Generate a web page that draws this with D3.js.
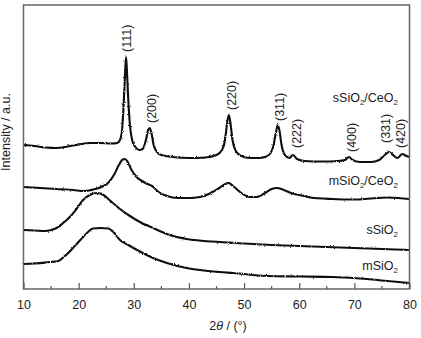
<!DOCTYPE html>
<html>
<head>
<meta charset="utf-8">
<script src="https://cdn.jsdelivr.net/npm/d3@7/dist/d3.min.js"></script>
<style>
  html, body { margin: 0; padding: 0; background: #fff; }
  svg { display: block; }
  text { font-family: "Liberation Sans", Arial, sans-serif; }
</style>
</head>
<body>
<svg id="chart" width="421" height="338"></svg>
<script>
// XRD patterns, 2θ in degrees vs. intensity (a.u., vertically offset)
const twoTheta_sCe = [10,12,14,16,18,20,22,24,26,27,27.5,27.9,28.2,28.45,28.6,28.75,29.0,29.3,29.7,30.3,31,31.6,32.2,32.6,32.9,33.2,33.6,34.2,35,37,40,43,45,46,46.6,47.0,47.25,47.5,47.9,48.5,49.5,51,53,54.5,55.3,55.8,56.1,56.4,56.8,57.4,58.2,58.9,59.6,61,64,67,68.3,69.0,69.7,71,73,74.5,75.5,76.3,77,77.8,78.7,79.3,80];
const int_sCe = [144,143,141.5,141,142.5,144.5,146,146,145.5,146,149,161,189,219,232,219,189,164,149,142,139,140,149,159,161,156,144,137,134,132,131,131.5,134,139,151,169,174,167,149,138,133,131,131,134,143,157,164,159,144,134,131,134,130,128,127.5,128,129,132,129,127,127,129,134,137,134,131,135,133.5,132];

const twoTheta_mCe = [10,13,16,19,21,23,24.5,25.5,26.5,27.3,28.0,28.4,28.9,29.6,30.5,31.5,32.5,33.3,34.5,36,38,40,42,44,45.5,46.6,47.2,48,49.5,51,52.3,53.5,55,56,57,58.5,60,62,66,70,72,74,76,78,80];
const int_mCe = [102,101,100,99,98,100,103,107,115,124,129.5,130,127,119,112,108,105,103,97,93,91,91,92,96,101,105,106,103,96,92,92,95,100,101,99.5,96,94,91.5,90,89.5,90,91,91.5,91,90];

const twoTheta_s = [10,12,14,15,16,17.2,18.4,19.6,20.8,22,23.3,24.5,25.8,27.5,29.3,31.1,33.5,36,39.6,45.6,50,55,60,65,70,75,80];
const int_s = [59,58.5,58,59,61,66,72,80,89,94,96,94,88,80,73,67,61,55,50,47,45.5,44,43,42,41,40,39];

const twoTheta_m = [10,12,14.7,16.3,17.3,18.3,19.3,20.3,21.5,22.6,24.0,25.4,26.3,27.5,29,30.6,33.5,36,39.6,42,45.6,48,54.2,60,66,72.3,76,80];
const int_m = [25,25.5,27,28,32,37,43,49,56,60.5,61,60.5,57,49,44,39,31,26,21,19,17,16,13,12.5,12,10,8,6];

// Miller-index annotations: 2θ of the text baseline and the height where the label starts
const hklLabels = ["(111)","(200)","(220)","(311)","(222)","(400)","(331)","(420)"];
const hklPos = [29.55,34.0,48.6,57.3,60.4,70.35,76.4,79.1];
const hklLevel = [237,166,179,168,141,137,146,141];

// Sample names and the intensity level they sit at
const sampleNames = [["sSiO","2","/CeO","2"],["mSiO","2","/CeO","2"],["sSiO","2"],["mSiO","2"]];
const sampleLevel = [187,104,55,19];

const xTicks = [10,20,30,40,50,60,70,80];
const xMinor = [15,25,35,45,55,65,75];

const svg = d3.select("#chart");
const L = 23.5, R = 409.5, T = 5, B = 289;

const x = d3.scaleLinear().domain([10, 80]).range([L, R]);
const y = d3.scaleLinear().domain([0, 284]).range([B, T]);

// slight roughness on the traces, like a noisy detector signal
const defs = svg.append("defs");
const f = defs.append("filter").attr("id", "rough")
  .attr("x", "-2%").attr("y", "-5%").attr("width", "104%").attr("height", "110%");
f.append("feTurbulence").attr("type", "fractalNoise").attr("baseFrequency", "0.9")
  .attr("numOctaves", 2).attr("seed", 3).attr("result", "n");
f.append("feDisplacementMap").attr("in", "SourceGraphic").attr("in2", "n")
  .attr("scale", 2.2).attr("xChannelSelector", "R").attr("yChannelSelector", "G");

const line = d3.line().x(d => x(d[0])).y(d => y(d[1])).curve(d3.curveMonotoneX);

const series = [
  [twoTheta_sCe, int_sCe],
  [twoTheta_mCe, int_mCe],
  [twoTheta_s, int_s],
  [twoTheta_m, int_m]
];

svg.append("g").attr("filter", "url(#rough)")
  .selectAll("path").data(series).join("path")
  .attr("d", s => line(d3.zip(s[0], s[1])))
  .attr("fill", "none")
  .attr("stroke", "#111")
  .attr("stroke-width", 2.1)
  .attr("stroke-linejoin", "round");

// frame
svg.append("rect").attr("x", L).attr("y", T).attr("width", R - L).attr("height", B - T)
  .attr("fill", "none").attr("stroke", "#666").attr("stroke-width", 1.5);

// bottom axis with inward ticks
const xAxis = d3.axisBottom(x).tickValues(xTicks).tickSizeInner(-6).tickSizeOuter(0)
  .tickPadding(11).tickFormat(d3.format("d"));
const gx = svg.append("g").attr("transform", `translate(0,${B})`).call(xAxis);
gx.select(".domain").remove();
gx.selectAll(".tick line").attr("stroke", "#555").attr("stroke-width", 1.2);
gx.selectAll(".tick text").attr("font-size", 12.5).attr("fill", "#222")
  .attr("font-family", "Liberation Sans, Arial, sans-serif");

svg.append("g").selectAll("line").data(xMinor).join("line")
  .attr("x1", d => x(d)).attr("x2", d => x(d))
  .attr("y1", B).attr("y2", B - 3)
  .attr("stroke", "#555").attr("stroke-width", 1.2);

// axis titles
const xt = svg.append("text").attr("x", 228).attr("y", 330)
  .attr("text-anchor", "middle").attr("font-size", 12.5).attr("fill", "#222");
xt.append("tspan").text("2");
xt.append("tspan").attr("font-style", "italic").text("θ");
xt.append("tspan").text(" / (°)");

svg.append("text")
  .attr("transform", "translate(10,132) rotate(-90)")
  .attr("text-anchor", "middle").attr("font-size", 12.5).attr("fill", "#222")
  .text("Intensity / a.u.");

// Miller indices, rotated
svg.append("g").selectAll("text").data(hklLabels).join("text")
  .attr("transform", (d, i) => `translate(${x(hklPos[i])},${y(hklLevel[i])}) rotate(-90)`)
  .attr("font-size", 12.5).attr("fill", "#222")
  .text(d => d);

// sample names with subscripts
const names = svg.append("g").selectAll("text").data(sampleNames).join("text")
  .attr("x", 398).attr("y", (d, i) => y(sampleLevel[i]))
  .attr("text-anchor", "end").attr("font-size", 12.5).attr("fill", "#222");
names.each(function(parts) {
  const t = d3.select(this);
  parts.forEach((p, k) => {
    const sub = k % 2 === 1;
    t.append("tspan").text(p)
      .attr("font-size", sub ? 8 : 12.5)
      .attr("dy", sub ? 3 : (k > 0 ? -3 : 0));
  });
});
</script>
</body>
</html>
